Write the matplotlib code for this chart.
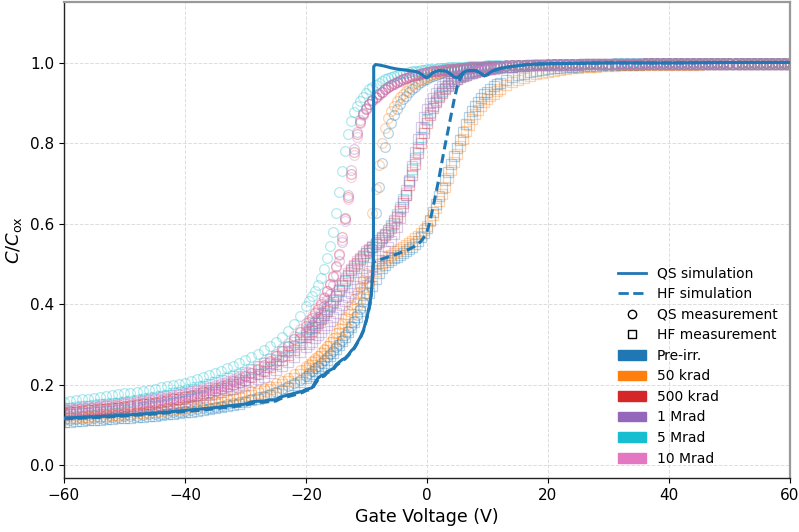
import numpy as np
import matplotlib.pyplot as plt
from matplotlib.lines import Line2D
from matplotlib.patches import Patch

# measurement sweep: 1 V steps on the flat parts, 0.5 V steps around the transition
v_meas = np.concatenate([np.arange(-60, -20, 1.0), np.arange(-20, 12.5, 0.5), np.arange(13, 61, 1.0)])

doses = ['Pre-irr.', '50 krad', '500 krad', '1 Mrad', '5 Mrad', '10 Mrad']
dose_colors = ['C0', 'C1', 'C3', 'C4', 'C9', 'C6']

# ---- QS measurements (circles) ----
qs_pre = [0.112, 0.113, 0.114, 0.114, 0.115, 0.116, 0.117, 0.118, 0.119, 0.120,
          0.121, 0.122, 0.123, 0.125, 0.126, 0.127, 0.128, 0.130, 0.131, 0.133,
          0.135, 0.137, 0.139, 0.141, 0.143, 0.145, 0.148, 0.151, 0.154, 0.157,
          0.160, 0.164, 0.168, 0.172, 0.177, 0.182, 0.189, 0.196, 0.204, 0.212,
          0.222, 0.228, 0.234, 0.240, 0.247, 0.254, 0.261, 0.268, 0.276, 0.284, 0.293,
          0.302, 0.312, 0.322, 0.333, 0.345, 0.358, 0.372, 0.388, 0.405, 0.425,
          0.452, 0.540, 0.625, 0.690, 0.750, 0.790, 0.825, 0.850, 0.870, 0.885,
          0.898, 0.909, 0.918, 0.926, 0.933, 0.940, 0.946, 0.951, 0.956, 0.960,
          0.964, 0.967, 0.970, 0.972, 0.974, 0.976, 0.978, 0.979, 0.980, 0.981, 0.982, 0.983,
          0.984, 0.985, 0.986, 0.987, 0.987, 0.988, 0.989, 0.989, 0.990, 0.990, 0.991, 0.991,
          0.992, 0.993, 0.993, 0.994, 0.994, 0.995, 0.995, 0.995, 0.996, 0.996, 0.996, 0.996,
          0.997, 0.997, 0.997, 0.997, 0.997, 0.997, 0.998, 0.998, 0.998, 0.998, 0.998, 0.998,
          0.998, 0.998, 0.998, 0.998, 0.998, 0.998, 0.998, 0.998, 0.998, 0.998, 0.998, 0.998,
          0.998, 0.998, 0.999, 0.999, 0.999, 0.999, 0.999, 0.999, 0.999, 0.999, 0.999, 0.999]
qs_50k = [0.120, 0.121, 0.122, 0.123, 0.124, 0.125, 0.126, 0.127, 0.128, 0.129,
          0.130, 0.131, 0.133, 0.134, 0.136, 0.137, 0.139, 0.141, 0.143, 0.145,
          0.147, 0.150, 0.152, 0.155, 0.158, 0.161, 0.164, 0.167, 0.171, 0.174,
          0.178, 0.183, 0.187, 0.192, 0.197, 0.203, 0.210, 0.217, 0.226, 0.236,
          0.246, 0.252, 0.258, 0.265, 0.272, 0.280, 0.288, 0.297, 0.306, 0.316, 0.327,
          0.340, 0.353, 0.367, 0.382, 0.398, 0.413, 0.428, 0.443, 0.460, 0.478,
          0.530, 0.625, 0.685, 0.745, 0.800, 0.838, 0.862, 0.880, 0.893, 0.905,
          0.914, 0.922, 0.930, 0.937, 0.943, 0.948, 0.953, 0.957, 0.961, 0.965,
          0.968, 0.971, 0.973, 0.975, 0.977, 0.979, 0.980, 0.982, 0.983, 0.984, 0.985, 0.986,
          0.987, 0.987, 0.988, 0.989, 0.989, 0.990, 0.990, 0.991, 0.991, 0.992, 0.992, 0.992,
          0.993, 0.993, 0.994, 0.994, 0.995, 0.995, 0.995, 0.996, 0.996, 0.996, 0.996, 0.996,
          0.996, 0.997, 0.997, 0.997, 0.997, 0.997, 0.997, 0.997, 0.997, 0.997, 0.997, 0.998,
          0.998, 0.998, 0.998, 0.998, 0.998, 0.998, 0.998, 0.998, 0.998, 0.998, 0.998, 0.998,
          0.998, 0.998, 0.998, 0.998, 0.998, 0.998, 0.998, 0.998, 0.998, 0.998, 0.998, 0.998]
qs_500k = [0.133, 0.134, 0.136, 0.137, 0.139, 0.140, 0.142, 0.143, 0.145, 0.146,
           0.148, 0.150, 0.152, 0.154, 0.156, 0.158, 0.161, 0.163, 0.166, 0.169,
           0.172, 0.175, 0.179, 0.183, 0.187, 0.191, 0.196, 0.202, 0.208, 0.215,
           0.222, 0.230, 0.239, 0.249, 0.259, 0.270, 0.283, 0.297, 0.313, 0.330,
           0.346, 0.356, 0.366, 0.377, 0.388, 0.401, 0.415, 0.432, 0.450, 0.470, 0.494,
           0.525, 0.566, 0.614, 0.667, 0.724, 0.777, 0.822, 0.853, 0.871, 0.885,
           0.897, 0.906, 0.914, 0.921, 0.927, 0.933, 0.938, 0.943, 0.947, 0.951,
           0.955, 0.958, 0.961, 0.964, 0.966, 0.968, 0.970, 0.972, 0.974, 0.976,
           0.977, 0.978, 0.979, 0.980, 0.981, 0.982, 0.983, 0.984, 0.985, 0.985, 0.986, 0.987,
           0.987, 0.988, 0.988, 0.989, 0.989, 0.990, 0.990, 0.990, 0.991, 0.991, 0.991, 0.992,
           0.992, 0.993, 0.993, 0.994, 0.994, 0.995, 0.995, 0.995, 0.996, 0.996, 0.996, 0.996,
           0.996, 0.997, 0.997, 0.997, 0.997, 0.997, 0.997, 0.997, 0.997, 0.997, 0.997, 0.998,
           0.998, 0.998, 0.998, 0.998, 0.998, 0.998, 0.998, 0.998, 0.998, 0.998, 0.998, 0.998,
           0.998, 0.998, 0.998, 0.998, 0.998, 0.998, 0.998, 0.998, 0.998, 0.998, 0.998, 0.998]
qs_1M = [0.128, 0.129, 0.131, 0.132, 0.133, 0.135, 0.136, 0.138, 0.139, 0.141,
         0.142, 0.144, 0.146, 0.148, 0.150, 0.152, 0.154, 0.157, 0.159, 0.162,
         0.165, 0.168, 0.171, 0.175, 0.179, 0.183, 0.188, 0.193, 0.198, 0.204,
         0.210, 0.218, 0.226, 0.235, 0.245, 0.256, 0.269, 0.283, 0.299, 0.316,
         0.330, 0.339, 0.348, 0.358, 0.369, 0.381, 0.394, 0.409, 0.426, 0.447, 0.473,
         0.508, 0.555, 0.612, 0.672, 0.732, 0.785, 0.828, 0.857, 0.874, 0.887,
         0.898, 0.907, 0.915, 0.922, 0.928, 0.934, 0.939, 0.944, 0.948, 0.952,
         0.956, 0.959, 0.962, 0.965, 0.967, 0.969, 0.971, 0.973, 0.975, 0.977,
         0.978, 0.979, 0.980, 0.981, 0.982, 0.983, 0.984, 0.984, 0.985, 0.986, 0.986, 0.987,
         0.988, 0.988, 0.989, 0.989, 0.990, 0.990, 0.991, 0.991, 0.991, 0.992, 0.992, 0.992,
         0.993, 0.993, 0.994, 0.994, 0.995, 0.995, 0.995, 0.996, 0.996, 0.996, 0.996, 0.996,
         0.996, 0.997, 0.997, 0.997, 0.997, 0.997, 0.997, 0.997, 0.997, 0.997, 0.997, 0.998,
         0.998, 0.998, 0.998, 0.998, 0.998, 0.998, 0.998, 0.998, 0.998, 0.998, 0.998, 0.998,
         0.998, 0.998, 0.998, 0.998, 0.998, 0.998, 0.998, 0.998, 0.998, 0.998, 0.998, 0.998]
qs_5M = [0.157, 0.159, 0.161, 0.163, 0.165, 0.167, 0.169, 0.171, 0.173, 0.176,
         0.178, 0.180, 0.182, 0.185, 0.187, 0.190, 0.193, 0.196, 0.199, 0.202,
         0.205, 0.209, 0.213, 0.218, 0.223, 0.228, 0.234, 0.240, 0.246, 0.253,
         0.260, 0.268, 0.276, 0.285, 0.295, 0.305, 0.318, 0.333, 0.350, 0.370,
         0.395, 0.408, 0.420, 0.433, 0.447, 0.465, 0.488, 0.515, 0.545, 0.580, 0.625,
         0.678, 0.730, 0.780, 0.822, 0.855, 0.876, 0.892, 0.904, 0.915, 0.925,
         0.933, 0.940, 0.945, 0.950, 0.954, 0.958, 0.961, 0.964, 0.967, 0.969,
         0.971, 0.973, 0.975, 0.976, 0.978, 0.979, 0.980, 0.981, 0.982, 0.983,
         0.984, 0.985, 0.985, 0.986, 0.987, 0.987, 0.988, 0.988, 0.989, 0.989, 0.990, 0.990,
         0.990, 0.991, 0.991, 0.991, 0.992, 0.992, 0.992, 0.993, 0.993, 0.993, 0.993, 0.994,
         0.994, 0.994, 0.995, 0.995, 0.995, 0.996, 0.996, 0.996, 0.997, 0.997, 0.997, 0.997,
         0.997, 0.997, 0.997, 0.997, 0.997, 0.997, 0.998, 0.998, 0.998, 0.998, 0.998, 0.998,
         0.998, 0.998, 0.998, 0.998, 0.998, 0.998, 0.998, 0.998, 0.998, 0.998, 0.998, 0.998,
         0.998, 0.998, 0.998, 0.998, 0.998, 0.998, 0.998, 0.998, 0.998, 0.998, 0.998, 0.998]
qs_10M = [0.140, 0.141, 0.143, 0.144, 0.146, 0.147, 0.149, 0.150, 0.152, 0.153,
          0.155, 0.157, 0.159, 0.161, 0.163, 0.166, 0.168, 0.171, 0.174, 0.177,
          0.180, 0.183, 0.187, 0.191, 0.195, 0.199, 0.204, 0.209, 0.215, 0.222,
          0.230, 0.238, 0.247, 0.256, 0.266, 0.277, 0.290, 0.304, 0.320, 0.338,
          0.352, 0.361, 0.371, 0.381, 0.392, 0.404, 0.417, 0.432, 0.449, 0.468, 0.491,
          0.521, 0.560, 0.607, 0.660, 0.716, 0.770, 0.816, 0.849, 0.869, 0.884,
          0.896, 0.905, 0.913, 0.920, 0.927, 0.933, 0.938, 0.943, 0.947, 0.951,
          0.955, 0.958, 0.961, 0.964, 0.966, 0.968, 0.970, 0.972, 0.974, 0.976,
          0.977, 0.978, 0.979, 0.980, 0.981, 0.982, 0.983, 0.984, 0.985, 0.985, 0.986, 0.987,
          0.987, 0.988, 0.988, 0.989, 0.989, 0.990, 0.990, 0.990, 0.991, 0.991, 0.991, 0.992,
          0.993, 0.993, 0.994, 0.994, 0.995, 0.995, 0.995, 0.996, 0.996, 0.996, 0.996, 0.996,
          0.996, 0.997, 0.997, 0.997, 0.997, 0.997, 0.997, 0.997, 0.997, 0.997, 0.997, 0.998,
          0.998, 0.998, 0.998, 0.998, 0.998, 0.998, 0.998, 0.998, 0.998, 0.998, 0.998, 0.998,
          0.998, 0.998, 0.998, 0.998, 0.998, 0.998, 0.998, 0.998, 0.998, 0.998, 0.998, 0.998]

# ---- HF measurements (squares) ----
hf_pre = [0.107, 0.108, 0.109, 0.110, 0.111, 0.112, 0.113, 0.114, 0.115, 0.116,
          0.117, 0.118, 0.119, 0.120, 0.121, 0.123, 0.124, 0.126, 0.127, 0.129,
          0.131, 0.133, 0.135, 0.137, 0.139, 0.141, 0.144, 0.147, 0.150, 0.153,
          0.157, 0.161, 0.165, 0.169, 0.173, 0.178, 0.184, 0.191, 0.199, 0.207,
          0.216, 0.221, 0.227, 0.233, 0.240, 0.247, 0.254, 0.262, 0.270, 0.279, 0.288,
          0.298, 0.308, 0.319, 0.330, 0.342, 0.355, 0.368, 0.382, 0.397, 0.412,
          0.428, 0.445, 0.462, 0.478, 0.490, 0.498, 0.504, 0.509, 0.514, 0.518,
          0.522, 0.526, 0.531, 0.536, 0.542, 0.549, 0.557, 0.566, 0.577, 0.590,
          0.608, 0.628, 0.648, 0.668, 0.688, 0.708, 0.728, 0.748, 0.768, 0.788, 0.808, 0.828,
          0.847, 0.864, 0.879, 0.892, 0.903, 0.913, 0.921, 0.928, 0.935, 0.941, 0.946, 0.950,
          0.957, 0.963, 0.968, 0.972, 0.976, 0.979, 0.982, 0.984, 0.986, 0.987, 0.988, 0.989,
          0.990, 0.991, 0.992, 0.992, 0.993, 0.993, 0.994, 0.994, 0.995, 0.995, 0.995, 0.996,
          0.996, 0.996, 0.996, 0.996, 0.996, 0.996, 0.996, 0.996, 0.996, 0.997, 0.997, 0.997,
          0.997, 0.997, 0.997, 0.997, 0.997, 0.997, 0.997, 0.997, 0.997, 0.997, 0.997, 0.997]
hf_50k = [0.116, 0.117, 0.118, 0.119, 0.120, 0.121, 0.122, 0.123, 0.124, 0.125,
          0.126, 0.127, 0.129, 0.130, 0.131, 0.133, 0.135, 0.136, 0.138, 0.140,
          0.142, 0.144, 0.147, 0.149, 0.152, 0.155, 0.158, 0.161, 0.164, 0.167,
          0.171, 0.175, 0.179, 0.184, 0.189, 0.194, 0.201, 0.208, 0.217, 0.226,
          0.236, 0.242, 0.248, 0.255, 0.262, 0.270, 0.278, 0.287, 0.296, 0.306, 0.316,
          0.327, 0.338, 0.350, 0.362, 0.375, 0.388, 0.401, 0.414, 0.428, 0.442,
          0.456, 0.470, 0.483, 0.494, 0.503, 0.510, 0.516, 0.521, 0.526, 0.531,
          0.536, 0.541, 0.546, 0.551, 0.557, 0.563, 0.569, 0.576, 0.584, 0.594,
          0.607, 0.622, 0.638, 0.655, 0.673, 0.692, 0.712, 0.732, 0.752, 0.772, 0.792, 0.811,
          0.829, 0.845, 0.859, 0.871, 0.882, 0.892, 0.901, 0.909, 0.916, 0.923, 0.929, 0.934,
          0.943, 0.951, 0.957, 0.962, 0.967, 0.971, 0.974, 0.977, 0.980, 0.982, 0.984, 0.986,
          0.987, 0.988, 0.989, 0.990, 0.991, 0.992, 0.992, 0.993, 0.993, 0.994, 0.994, 0.995,
          0.995, 0.995, 0.995, 0.995, 0.995, 0.995, 0.995, 0.995, 0.995, 0.996, 0.996, 0.996,
          0.996, 0.996, 0.996, 0.996, 0.996, 0.996, 0.996, 0.996, 0.996, 0.996, 0.996, 0.996]
hf_500k = [0.130, 0.131, 0.133, 0.134, 0.136, 0.137, 0.139, 0.140, 0.142, 0.143,
           0.145, 0.147, 0.149, 0.151, 0.153, 0.155, 0.158, 0.160, 0.163, 0.165,
           0.168, 0.171, 0.174, 0.178, 0.182, 0.186, 0.191, 0.196, 0.201, 0.206,
           0.212, 0.219, 0.227, 0.235, 0.243, 0.252, 0.262, 0.274, 0.286, 0.300,
           0.318, 0.326, 0.334, 0.343, 0.352, 0.362, 0.372, 0.383, 0.394, 0.406, 0.420,
           0.434, 0.448, 0.461, 0.473, 0.484, 0.494, 0.503, 0.511, 0.519, 0.527,
           0.534, 0.541, 0.548, 0.555, 0.563, 0.571, 0.580, 0.590, 0.602, 0.616,
           0.632, 0.650, 0.671, 0.695, 0.721, 0.748, 0.775, 0.801, 0.826, 0.849,
           0.869, 0.886, 0.901, 0.914, 0.925, 0.934, 0.942, 0.949, 0.954, 0.959, 0.963, 0.967,
           0.970, 0.973, 0.975, 0.977, 0.979, 0.981, 0.982, 0.984, 0.985, 0.986, 0.987, 0.988,
           0.989, 0.990, 0.991, 0.992, 0.993, 0.993, 0.994, 0.994, 0.995, 0.995, 0.995, 0.995,
           0.995, 0.996, 0.996, 0.996, 0.996, 0.996, 0.996, 0.996, 0.996, 0.996, 0.996, 0.997,
           0.997, 0.997, 0.997, 0.997, 0.997, 0.997, 0.997, 0.997, 0.997, 0.997, 0.997, 0.997,
           0.997, 0.997, 0.997, 0.997, 0.997, 0.997, 0.997, 0.997, 0.997, 0.997, 0.997, 0.997]
hf_1M = [0.125, 0.126, 0.127, 0.129, 0.130, 0.131, 0.133, 0.134, 0.135, 0.137,
         0.138, 0.140, 0.142, 0.144, 0.146, 0.148, 0.150, 0.152, 0.155, 0.157,
         0.160, 0.163, 0.166, 0.169, 0.173, 0.177, 0.181, 0.186, 0.190, 0.195,
         0.200, 0.206, 0.213, 0.220, 0.228, 0.236, 0.246, 0.256, 0.268, 0.280,
         0.293, 0.300, 0.307, 0.315, 0.323, 0.331, 0.340, 0.349, 0.358, 0.368, 0.378,
         0.388, 0.398, 0.408, 0.418, 0.428, 0.437, 0.446, 0.455, 0.464, 0.473,
         0.482, 0.491, 0.500, 0.510, 0.520, 0.531, 0.543, 0.557, 0.573, 0.592,
         0.614, 0.640, 0.670, 0.705, 0.742, 0.778, 0.811, 0.840, 0.864, 0.884,
         0.900, 0.913, 0.924, 0.933, 0.941, 0.948, 0.953, 0.958, 0.962, 0.966, 0.969, 0.972,
         0.974, 0.976, 0.978, 0.980, 0.981, 0.983, 0.984, 0.985, 0.986, 0.987, 0.988, 0.988,
         0.989, 0.990, 0.991, 0.992, 0.993, 0.993, 0.994, 0.994, 0.995, 0.995, 0.995, 0.995,
         0.995, 0.996, 0.996, 0.996, 0.996, 0.996, 0.996, 0.996, 0.996, 0.996, 0.996, 0.997,
         0.997, 0.997, 0.997, 0.997, 0.997, 0.997, 0.997, 0.997, 0.997, 0.997, 0.997, 0.997,
         0.997, 0.997, 0.997, 0.997, 0.997, 0.997, 0.997, 0.997, 0.997, 0.997, 0.997, 0.997]
hf_5M = [0.142, 0.143, 0.145, 0.146, 0.148, 0.149, 0.151, 0.152, 0.154, 0.155,
         0.157, 0.159, 0.161, 0.164, 0.166, 0.169, 0.172, 0.175, 0.178, 0.181,
         0.185, 0.189, 0.193, 0.197, 0.201, 0.206, 0.211, 0.216, 0.222, 0.227,
         0.232, 0.239, 0.246, 0.254, 0.263, 0.272, 0.283, 0.294, 0.306, 0.318,
         0.330, 0.337, 0.344, 0.352, 0.360, 0.369, 0.378, 0.388, 0.398, 0.409, 0.421,
         0.433, 0.445, 0.457, 0.469, 0.480, 0.490, 0.500, 0.509, 0.518, 0.526,
         0.534, 0.542, 0.550, 0.558, 0.566, 0.575, 0.585, 0.596, 0.609, 0.624,
         0.641, 0.661, 0.684, 0.709, 0.736, 0.763, 0.790, 0.815, 0.838, 0.859,
         0.877, 0.893, 0.907, 0.919, 0.929, 0.937, 0.944, 0.950, 0.955, 0.960, 0.964, 0.967,
         0.970, 0.973, 0.975, 0.977, 0.979, 0.981, 0.982, 0.983, 0.985, 0.986, 0.987, 0.988,
         0.989, 0.990, 0.991, 0.992, 0.993, 0.993, 0.994, 0.994, 0.995, 0.995, 0.995, 0.995,
         0.995, 0.996, 0.996, 0.996, 0.996, 0.996, 0.996, 0.996, 0.996, 0.996, 0.996, 0.997,
         0.997, 0.997, 0.997, 0.997, 0.997, 0.997, 0.997, 0.997, 0.997, 0.997, 0.997, 0.997,
         0.997, 0.997, 0.997, 0.997, 0.997, 0.997, 0.997, 0.997, 0.997, 0.997, 0.997, 0.997]
hf_10M = [0.136, 0.137, 0.139, 0.140, 0.142, 0.143, 0.145, 0.146, 0.148, 0.149,
          0.151, 0.153, 0.155, 0.157, 0.160, 0.162, 0.165, 0.167, 0.170, 0.173,
          0.176, 0.179, 0.183, 0.187, 0.191, 0.195, 0.200, 0.205, 0.210, 0.216,
          0.222, 0.229, 0.236, 0.244, 0.253, 0.262, 0.272, 0.284, 0.296, 0.310,
          0.324, 0.332, 0.340, 0.349, 0.358, 0.368, 0.378, 0.389, 0.400, 0.412, 0.425,
          0.438, 0.452, 0.465, 0.477, 0.488, 0.498, 0.507, 0.515, 0.523, 0.531,
          0.538, 0.545, 0.552, 0.559, 0.567, 0.575, 0.584, 0.594, 0.606, 0.620,
          0.636, 0.655, 0.677, 0.702, 0.729, 0.757, 0.784, 0.810, 0.834, 0.856,
          0.875, 0.891, 0.905, 0.917, 0.927, 0.936, 0.943, 0.949, 0.954, 0.959, 0.963, 0.967,
          0.970, 0.972, 0.975, 0.977, 0.979, 0.980, 0.982, 0.983, 0.984, 0.985, 0.986, 0.987,
          0.989, 0.990, 0.991, 0.992, 0.993, 0.993, 0.994, 0.994, 0.995, 0.995, 0.995, 0.995,
          0.995, 0.996, 0.996, 0.996, 0.996, 0.996, 0.996, 0.996, 0.996, 0.996, 0.996, 0.997,
          0.997, 0.997, 0.997, 0.997, 0.997, 0.997, 0.997, 0.997, 0.997, 0.997, 0.997, 0.997,
          0.997, 0.997, 0.997, 0.997, 0.997, 0.997, 0.997, 0.997, 0.997, 0.997, 0.997, 0.997]

qs_meas = [qs_pre, qs_50k, qs_500k, qs_1M, qs_5M, qs_10M]
hf_meas = [hf_pre, hf_50k, hf_500k, hf_1M, hf_5M, hf_10M]

# ---- simulations (pre-irr.) ----
qs_sim_v = [-60, -55, -50, -45, -40, -37, -35, -33, -31, -30, -29, -28, -27, -26, -25,
            -24.5, -24, -23, -22, -21, -20.5, -20, -19, -18.5, -18, -17.5, -17, -16.5, -16, -15.5,
            -15, -14.5, -14, -13.5, -13, -12.5, -12, -11.5, -11, -10.5, -10, -9.5, -9.2, -9.0, -8.85,
            -8.8, -8.5, -8, -7, -6, -5, -4, -3, -2, -1.5, -1, -0.5, 0, 0.5, 1,
            1.5, 2, 3, 3.5, 4, 4.5, 5, 5.5, 6, 6.5, 7, 8, 8.5, 9, 9.5,
            10, 10.5, 11, 12, 13, 14, 16, 18, 20, 25, 30, 40, 50, 60]
qs_sim_c = [0.117, 0.120, 0.124, 0.129, 0.136, 0.140, 0.143, 0.147, 0.150, 0.152, 0.157, 0.159, 0.159, 0.162, 0.162,
            0.167, 0.170, 0.174, 0.178, 0.182, 0.184, 0.188, 0.192, 0.205, 0.216, 0.222, 0.224, 0.232, 0.236, 0.240,
            0.250, 0.256, 0.262, 0.266, 0.274, 0.284, 0.292, 0.305, 0.318, 0.335, 0.362, 0.395, 0.425, 0.470, 0.505,
            0.990, 0.995, 0.994, 0.991, 0.987, 0.984, 0.982, 0.980, 0.978, 0.976, 0.972, 0.966, 0.962, 0.968, 0.975,
            0.978, 0.980, 0.979, 0.976, 0.970, 0.964, 0.962, 0.968, 0.975, 0.979, 0.980, 0.980, 0.977, 0.972, 0.967,
            0.970, 0.976, 0.980, 0.985, 0.988, 0.990, 0.994, 0.996, 0.997, 0.998, 0.999, 0.999, 1.0, 1.0]
hf_sim_v = [-60, -55, -50, -45, -40, -37, -35, -33, -31, -30, -29, -28, -27, -26, -25,
            -24.5, -24, -23, -22, -21, -20.5, -20, -19, -18.5, -18, -17.5, -17, -16.5, -16, -15.5,
            -15, -14.5, -14, -13.5, -13, -12.5, -12, -11.5, -11, -10.5, -10, -9.5, -9.2, -9.0, -8.85,
            -8.5, -8, -7, -6, -5, -4, -3, -2, -1.5, -1, -0.5, 0, 0.5, 1, 1.5,
            2, 2.5, 3, 3.5, 4, 4.5, 5, 5.5, 6, 6.5, 7, 8, 8.5, 9, 9.5,
            10, 10.5, 11, 12, 13, 14, 16, 18, 20, 25, 30, 40, 50, 60]
hf_sim_c = [0.115, 0.118, 0.122, 0.127, 0.133, 0.137, 0.140, 0.144, 0.147, 0.149, 0.153, 0.156, 0.156, 0.158, 0.159,
            0.163, 0.166, 0.170, 0.174, 0.178, 0.181, 0.185, 0.189, 0.201, 0.212, 0.219, 0.221, 0.229, 0.233, 0.237,
            0.247, 0.253, 0.259, 0.264, 0.272, 0.282, 0.290, 0.303, 0.316, 0.333, 0.360, 0.393, 0.423, 0.468, 0.503,
            0.507, 0.510, 0.514, 0.519, 0.524, 0.530, 0.536, 0.544, 0.549, 0.556, 0.566, 0.580, 0.605, 0.640, 0.676,
            0.714, 0.755, 0.795, 0.832, 0.870, 0.908, 0.940, 0.960, 0.973, 0.979, 0.980, 0.980, 0.977, 0.972, 0.967,
            0.970, 0.976, 0.980, 0.985, 0.988, 0.990, 0.994, 0.996, 0.997, 0.998, 0.999, 0.999, 1.0, 1.0]

for s in qs_meas + hf_meas:
    assert len(s) == len(v_meas), len(s)
assert len(qs_sim_v) == len(qs_sim_c) and len(hf_sim_v) == len(hf_sim_c)

fig, ax = plt.subplots(figsize=(7.99, 5.32), dpi=100)
fig.subplots_adjust(left=0.080, right=0.9887, top=0.996, bottom=0.1015)

for col, qs, hf in zip(dose_colors, qs_meas, hf_meas):
    ax.plot(v_meas, qs, 'o', mfc='none', mec=col, ms=7, mew=0.9, alpha=0.33)
    ax.plot(v_meas, hf, 's', mfc='none', mec=col, ms=7, mew=0.9, alpha=0.33)

ax.plot(qs_sim_v, qs_sim_c, '-', color='C0', lw=2.2, zorder=5)
ax.plot(hf_sim_v, hf_sim_c, '--', color='C0', lw=2.2, dashes=(3.0, 1.6), zorder=5)

ax.set_xlim(-60, 60)
ax.set_ylim(-0.032, 1.15)
ax.set_xticks([-60, -40, -20, 0, 20, 40, 60])
ax.set_yticks([0.0, 0.2, 0.4, 0.6, 0.8, 1.0])
ax.tick_params(labelsize=11)
ax.grid(True, ls='--', lw=0.7, color='#dddddd')
ax.set_axisbelow(True)
ax.set_xlabel('Gate Voltage (V)', fontsize=12.5)
ax.set_ylabel(r'$C/C_{\mathrm{ox}}$', fontsize=13)

for side in ['top', 'right']:
    ax.spines[side].set_color('#999999')
    ax.spines[side].set_linewidth(1.6)
for side in ['left', 'bottom']:
    ax.spines[side].set_color('#222222')
    ax.spines[side].set_linewidth(1.0)

handles = [Line2D([], [], color='C0', lw=2, ls='-'),
           Line2D([], [], color='C0', lw=2, ls='--'),
           Line2D([], [], color='k', marker='o', ls='none', mfc='none', ms=6),
           Line2D([], [], color='k', marker='s', ls='none', mfc='none', ms=6)]
labels = ['QS simulation', 'HF simulation', 'QS measurement', 'HF measurement']
for name, col in zip(doses, dose_colors):
    handles.append(Patch(facecolor=col, edgecolor=col))
    labels.append(name)
ax.legend(handles, labels, loc='lower right', frameon=False, fontsize=10, labelspacing=0.47)

fig.savefig('out.png', dpi=100)
